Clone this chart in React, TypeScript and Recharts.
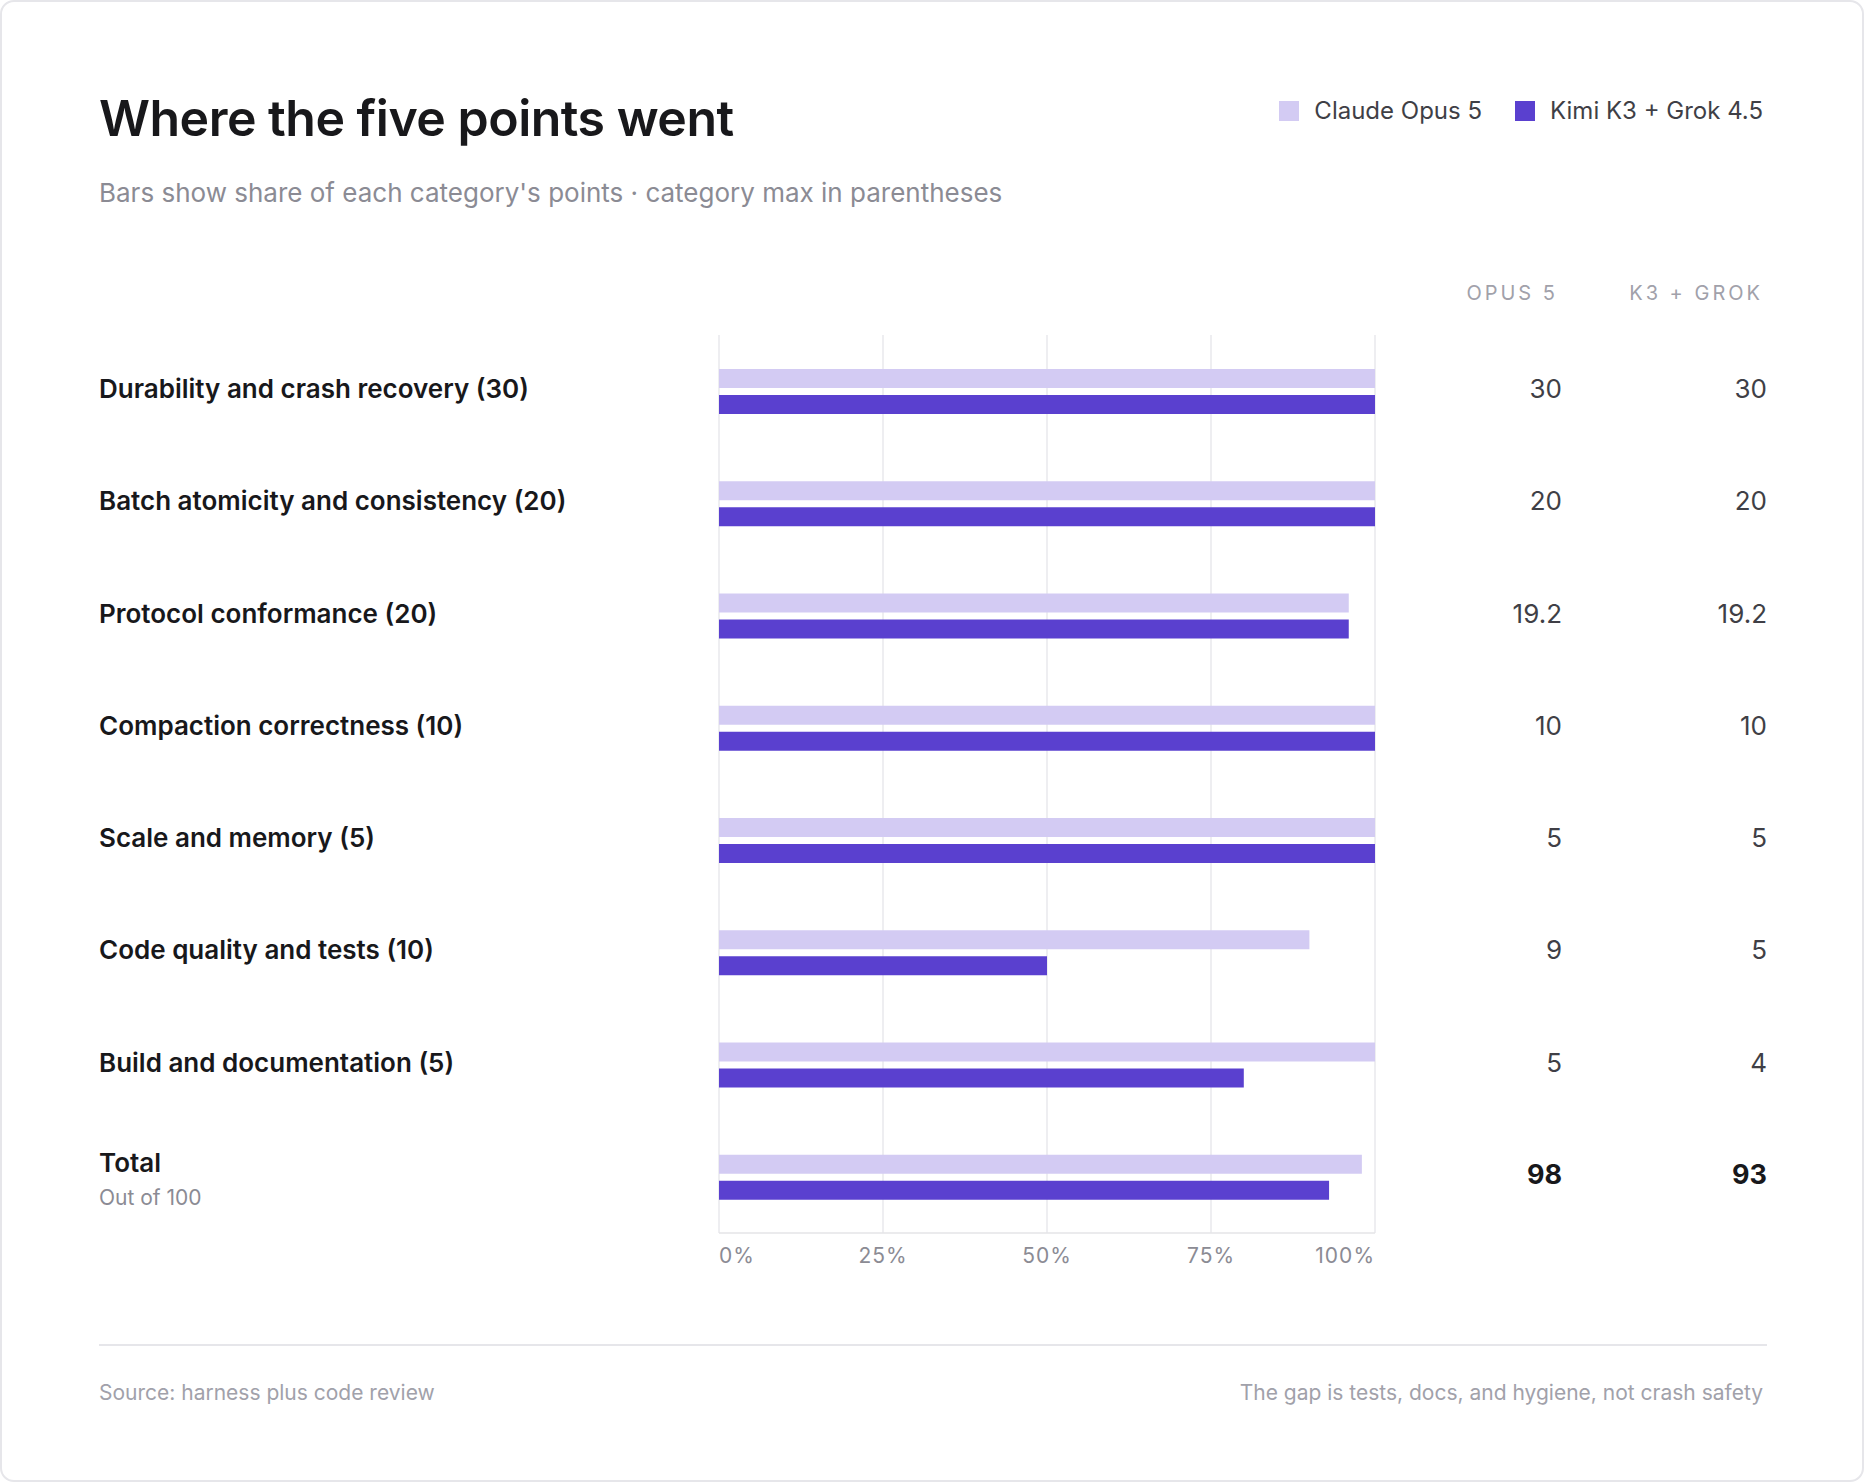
import React from 'react'
import { BarChart, Bar, XAxis, YAxis, CartesianGrid } from 'recharts'

const categories = [
  'Durability and crash recovery',
  'Batch atomicity and consistency',
  'Protocol conformance',
  'Compaction correctness',
  'Scale and memory',
  'Code quality and tests',
  'Build and documentation',
  'Total',
]
const maxPoints = [30, 20, 20, 10, 5, 10, 5, 100]
const opusScores = [30, 20, 19.2, 10, 5, 9, 5, 98]
const k3Scores = [30, 20, 19.2, 10, 5, 5, 4, 93]
const xTicks = [0, 25, 50, 75, 100]

const LIGHT = '#d3cbf3'
const DARK = '#5a40cf'
const INK = '#18181b'
const GRAY = '#8b8b94'
const FONT = 'Inter, "Noto Sans", sans-serif'

const data = categories.map((name, i) => ({
  name,
  opus: (opusScores[i] / maxPoints[i]) * 100,
  k3: (k3Scores[i] / maxPoints[i]) * 100,
}))

const CategoryTick = ({ y, payload, index }: any) => {
  const i = index ?? categories.indexOf(payload.value)
  const isTotal = categories[i] === 'Total'
  return (
    <g fontFamily={FONT}>
      {isTotal ? (
        <>
          <text x={97} y={y - 12} fontSize={26} fontWeight={600} fill={INK} dominantBaseline="middle">Total</text>
          <text x={97} y={y + 22} fontSize={21} fill={GRAY} dominantBaseline="middle">Out of 100</text>
        </>
      ) : (
        <text x={97} y={y} fontSize={26} fontWeight={600} fill={INK} dominantBaseline="middle">
          {`${categories[i]} (${maxPoints[i]})`}
        </text>
      )}
      <text x={1560} y={y} textAnchor="end" fontSize={isTotal ? 27 : 26} fontWeight={isTotal ? 700 : 400} fill={isTotal ? INK : '#3f3f46'} dominantBaseline="middle">
        {opusScores[i]}
      </text>
      <text x={1765} y={y} textAnchor="end" fontSize={isTotal ? 27 : 26} fontWeight={isTotal ? 700 : 400} fill={isTotal ? INK : '#3f3f46'} dominantBaseline="middle">
        {k3Scores[i]}
      </text>
    </g>
  )
}

const PercentTick = ({ x, y, payload }: any) => {
  const v = payload.value
  const anchor = v === 0 ? 'start' : v === 100 ? 'end' : 'middle'
  return (
    <text x={x} y={y + 22} textAnchor={anchor} fontFamily={FONT} fontSize={21} fill={GRAY} letterSpacing={1}>
      {v}%
    </text>
  )
}

export default function App() {
  return (
    <div style={{ position: 'absolute', left: 0, top: 0, width: 1864, height: 1482, boxSizing: 'border-box', border: '2px solid #e6e6ea', borderRadius: 14, background: '#fff', fontFamily: FONT, overflow: 'hidden' }}>
      <div style={{ position: 'absolute', left: 97, top: 86, fontSize: 50, fontWeight: 600, color: INK, letterSpacing: -0.5 }}>
        Where the five points went
      </div>
      <div style={{ position: 'absolute', left: 97, top: 175, fontSize: 26, color: GRAY }}>
        Bars show share of each category's points · category max in parentheses
      </div>
      <div style={{ position: 'absolute', right: 99, top: 94, display: 'flex', alignItems: 'center', fontSize: 24, color: '#3f3f46' }}>
        <span style={{ width: 20, height: 20, background: LIGHT, marginRight: 15 }} />
        <span style={{ marginRight: 33 }}>Claude Opus 5</span>
        <span style={{ width: 20, height: 20, background: DARK, marginRight: 15 }} />
        <span>Kimi K3 + Grok 4.5</span>
      </div>
      <div style={{ position: 'absolute', right: 1864 - 1560, top: 279, fontSize: 20, color: '#a1a1aa', letterSpacing: 3 }}>OPUS 5</div>
      <div style={{ position: 'absolute', right: 1864 - 1765, top: 279, fontSize: 20, color: '#a1a1aa', letterSpacing: 3 }}>K3 + GROK</div>

      <div style={{ position: 'absolute', left: 0, top: 0 }}>
        <BarChart
          width={1864}
          height={1300}
          data={data}
          layout="vertical"
          margin={{ top: 333, right: 491, bottom: 19, left: 0 }}
          barSize={19}
          barGap={7}
        >
          <CartesianGrid horizontal={false} stroke="#e8e8ec" strokeWidth={1.5} />
          <XAxis
            type="number"
            domain={[0, 100]}
            ticks={xTicks}
            tick={<PercentTick />}
            tickLine={false}
            axisLine={{ stroke: '#e4e4e7', strokeWidth: 1.5 }}
            height={50}
            interval={0}
          />
          <YAxis
            type="category"
            dataKey="name"
            width={717}
            tick={<CategoryTick />}
            tickLine={false}
            axisLine={false}
            interval={0}
          />
          <Bar dataKey="opus" fill={LIGHT} isAnimationActive={false} />
          <Bar dataKey="k3" fill={DARK} isAnimationActive={false} />
        </BarChart>
      </div>

      <div style={{ position: 'absolute', left: 97, width: 1668, top: 1342, height: 2, background: '#e6e6ea' }} />
      <div style={{ position: 'absolute', left: 97, top: 1378, fontSize: 21, color: '#a1a1aa' }}>Source: harness plus code review</div>
      <div style={{ position: 'absolute', right: 99, top: 1378, fontSize: 21, color: '#a1a1aa' }}>The gap is tests, docs, and hygiene, not crash safety</div>
    </div>
  )
}
